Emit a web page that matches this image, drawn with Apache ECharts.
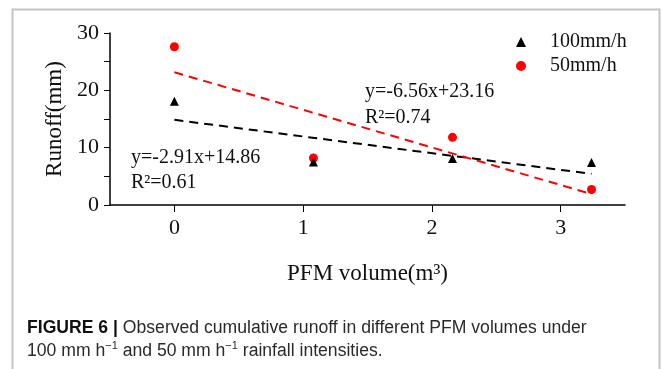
<!DOCTYPE html>
<html>
<head>
<meta charset="utf-8">
<script src="https://cdn.jsdelivr.net/npm/echarts@6/dist/echarts.min.js"></script>
<style>
  html, body { margin: 0; padding: 0; background: #fff; }
  #chart { width: 663px; height: 369px; }
</style>
</head>
<body>
<div id="chart"></div>
<script>
  // PFM volume (m3)
  var volumes = [0, 1.08, 2.16, 3.24];
  var runoff100 = [18.1, 7.5, 8.1, 7.4];
  var runoff50 = [27.6, 8.2, 11.8, 2.7];
  // fitted lines, end points from the equations in the picture
  var fitX = [0, 3.24];
  var fit100 = [14.86, 5.43];
  var fit50 = [23.16, 1.91];
  var xTicks = [0, 1, 2, 3];

  var serif = '"Liberation Serif", "Times New Roman", serif';

  function pairs(xs, ys) {
    return xs.map(function (x, i) { return [x, ys[i]]; });
  }

  var myChart = echarts.init(document.getElementById('chart'));
  var option = {
    backgroundColor: '#fff',
    animation: false,
    grid: { left: 110, right: 38, top: 33, bottom: 164 },
    legend: {
      orient: 'vertical',
      left: 511,
      top: 27,
      itemWidth: 10,
      itemHeight: 10,
      itemGap: 4,
      data: ['100mm/h', '50mm/h'],
      textStyle: { fontFamily: serif, fontSize: 20, color: '#111', padding: [0, 0, 0, 19] }
    },
    xAxis: {
      type: 'value',
      min: -0.5,
      max: 3.5,
      name: 'PFM volume(m³)',
      nameLocation: 'middle',
      nameGap: 57,
      nameTextStyle: { fontFamily: serif, fontSize: 23, color: '#111' },
      splitLine: { show: false },
      axisLine: { onZero: false, lineStyle: { color: '#000', width: 1.5 } },
      axisTick: { length: 7, customValues: xTicks, lineStyle: { color: '#000' } },
      axisLabel: { customValues: xTicks, margin: 12, fontFamily: serif, fontSize: 22, color: '#111' }
    },
    yAxis: {
      type: 'value',
      min: 0,
      max: 30,
      interval: 5,
      name: 'Runoff(mm)',
      nameLocation: 'middle',
      nameGap: 37,
      nameTextStyle: { fontFamily: serif, fontSize: 23, color: '#111' },
      splitLine: { show: false },
      axisLine: { show: true, onZero: false, lineStyle: { color: '#000', width: 1.5 } },
      axisTick: { show: true, length: 6, lineStyle: { color: '#000' } },
      axisLabel: {
        margin: 11,
        fontFamily: serif,
        fontSize: 22,
        color: '#111',
        formatter: function (v) { return v % 10 === 0 ? String(v) : ''; }
      }
    },
    series: [
      {
        name: 'fit100',
        type: 'line',
        data: pairs(fitX, fit100),
        symbol: 'none',
        lineStyle: { color: '#000', width: 2, type: [9, 6] },
        z: 1
      },
      {
        name: 'fit50',
        type: 'line',
        data: pairs(fitX, fit50),
        symbol: 'none',
        lineStyle: { color: '#ff0000', width: 2, type: [9, 6] },
        z: 1
      },
      {
        name: '100mm/h',
        type: 'scatter',
        data: pairs(volumes, runoff100),
        symbol: 'triangle',
        symbolSize: 9,
        itemStyle: { color: '#000', opacity: 1 },
        z: 3
      },
      {
        name: '50mm/h',
        type: 'scatter',
        data: pairs(volumes, runoff50),
        symbol: 'circle',
        symbolSize: 9,
        itemStyle: { color: '#ff0000', opacity: 1 },
        z: 2
      }
    ],
    graphic: [
      {
        type: 'rect',
        shape: { x: 12.5, y: 9.5, width: 647, height: 400 },
        style: { fill: 'none', stroke: '#c4c4c4', lineWidth: 2 },
        silent: true
      },
      {
        type: 'text',
        left: 131,
        top: 145,
        style: {
          text: 'y=-2.91x+14.86\nR²=0.61',
          font: '20px ' + serif,
          lineHeight: 25,
          fill: '#111'
        }
      },
      {
        type: 'text',
        left: 365,
        top: 79,
        style: {
          text: 'y=-6.56x+23.16\nR²=0.74',
          font: '20px ' + serif,
          lineHeight: 26,
          fill: '#111'
        }
      },
      {
        type: 'text',
        left: 27,
        top: 317,
        style: {
          text: '{b|FIGURE 6 |} Observed cumulative runoff in different PFM volumes under\n' +
                '100 mm h{s|−1} and 50 mm h{s|−1} rainfall intensities.',
          fontFamily: '"Liberation Sans", Arial, sans-serif',
          fontSize: 17.6,
          lineHeight: 23,
          fill: '#2a2a2a',
          rich: {
            b: { fontWeight: 'bold', fontSize: 17.6, lineHeight: 23, fill: '#111' },
            s: { fontSize: 11, lineHeight: 13, verticalAlign: 'top', fill: '#2a2a2a' }
          }
        }
      }
    ]
  };
  myChart.setOption(option);
</script>
</body>
</html>
